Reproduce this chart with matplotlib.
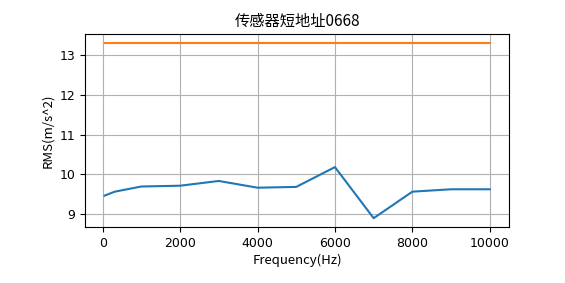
import matplotlib
matplotlib.use("Agg")
import matplotlib.pyplot as plt

freqs = [50, 315, 1000, 2000, 3000, 4000, 5000, 6000, 7000, 8000, 9000, 10000]
rms = [9.46, 9.56, 9.69, 9.71, 9.83, 9.66, 9.68, 10.18, 8.89, 9.56, 9.62, 9.62]
limit_x = [50, 10000]
limit_y = [13.32, 13.32]

title = "传感器短地址0668"
xlabel = "Frequency(Hz)"
ylabel = "RMS(m/s^2)"

cjk = ["Noto Sans CJK SC", "DejaVu Sans"]

fig = plt.figure(figsize=(5.65, 2.83), dpi=100)
ax = fig.add_axes([0.151, 0.198, 0.750, 0.682])
ax.plot(freqs, rms, color="#1f77b4")
ax.plot(limit_x, limit_y, color="#ff7f0e")
ax.grid(True, color="#b0b0b0", linewidth=0.8)
ax.set_axisbelow(True)
ax.set_title(title, family=cjk, fontsize=11)
ax.set_xlabel(xlabel, family=cjk, fontsize=9.5, labelpad=3)
ax.set_ylabel(ylabel, family=cjk, fontsize=9.5)
ax.set_xticks([0, 2000, 4000, 6000, 8000, 10000])
ax.set_yticks([9, 10, 11, 12, 13])
ax.tick_params(labelsize=9)
fig.savefig("out.png", dpi=100)
